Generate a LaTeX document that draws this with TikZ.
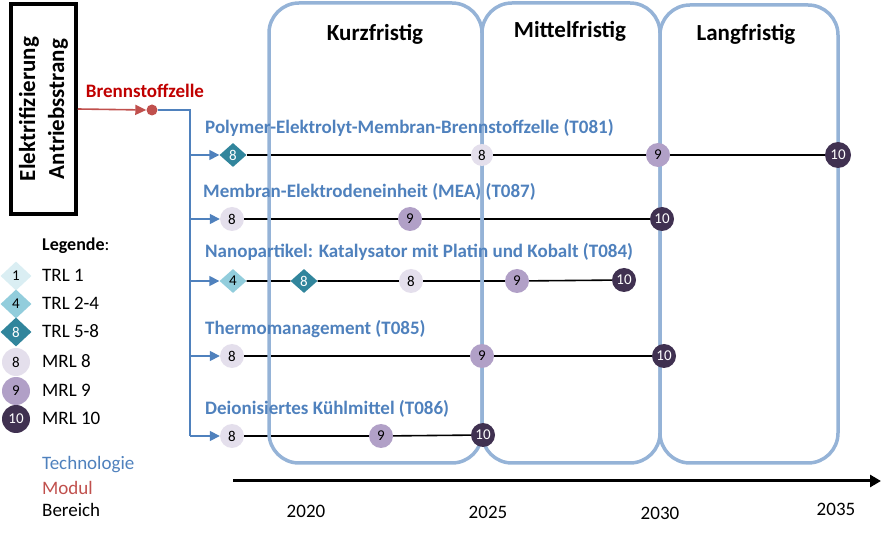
\documentclass[tikz,border=0pt]{standalone}
\usepackage{fontspec}
\setmainfont{Carlito}
\usetikzlibrary{shapes.geometric,arrows.meta}
\definecolor{techblue}{HTML}{4F81BD}
\definecolor{boxblue}{HTML}{95B3D7}
\definecolor{modred}{HTML}{C0504D}
\definecolor{labred}{HTML}{C00000}
\definecolor{trlA}{HTML}{DAEEF3}
\definecolor{trlB}{HTML}{92CDDC}
\definecolor{trlC}{HTML}{31859C}
\definecolor{mrlA}{HTML}{E4DFEC}
\definecolor{mrlB}{HTML}{B1A0C7}
\definecolor{mrlC}{HTML}{403151}
\pgfdeclarelayer{bg}
\pgfdeclarelayer{mid}
\pgfsetlayers{bg,mid,main}
\begin{document}
\begin{tikzpicture}[x=1pt,y=-1pt,
  numfont/.style={font=\fontsize{15}{15}\selectfont},
  trl/.style={diamond, inner sep=0pt, minimum width=27pt, minimum height=24pt, numfont},
  trlone/.style={trl, fill=trlA},
  trlfour/.style={trl, fill=trlB},
  trleight/.style={trl, fill=trlC, text=white},
  mrl/.style={circle, inner sep=0pt, minimum size=24pt, numfont},
  mrleight/.style={mrl, fill=mrlA},
  mrlnine/.style={mrl, fill=mrlB},
  mrlten/.style={mrl, fill=mrlC, text=white},
  legsym/.style={minimum width=31pt, minimum height=29pt},
  legcirc/.style={minimum size=28pt},
  legtext/.style={anchor=west, inner sep=0pt, font=\fontsize{19}{19}\selectfont},
  techlabel/.style={anchor=west, inner sep=0pt, text=techblue, font=\bfseries\fontsize{19}{19}\selectfont},
  period/.style={draw=boxblue, line width=3.5pt, rounded corners=30pt},
  title/.style={font=\bfseries\fontsize{23}{23}\selectfont},
  year/.style={font=\fontsize{19}{19}\selectfont},
  rowline/.style={line width=1.6pt},
  branch/.style={draw=techblue, line width=1.6pt, -{Triangle[length=10pt,width=10pt]}},
]
\useasboundingbox (0,0) rectangle (892,534);

% main box
\node (ea) [draw, line width=3.5pt, rotate=90, minimum width=210pt, minimum height=65pt,
  align=center, font=\bfseries\fontsize{23}{29}\selectfont] at (43.5,109) {Elektrifizierung\\Antriebsstrang};

% module
\node (bszlab) [text=labred, font=\bfseries\fontsize{19}{19}\selectfont] at (145,91) {Brennstoffzelle};
\node (bsz) [circle, fill=modred, inner sep=0pt, minimum size=11pt] at (152,110) {};
\coordinate (tTop) at (190,110);
\coordinate (tBot) at (190,436);

% period titles
\node (kurz) [title] at (375,34) {Kurzfristig};
\node (mittel) [title] at (570,31) {Mittelfristig};
\node (lang) [title] at (746,34) {Langfristig};

% technology labels
\node (l1) [techlabel] at (205,128) {Polymer-Elektrolyt-Membran-Brennstoffzelle (T081)};
\node (l2) [techlabel] at (203,192) {Membran-Elektrodeneinheit (MEA) (T087)};
\node (l3) [techlabel] at (205,252) {Nanopartikel: Katalysator mit Platin und Kobalt (T084)};
\node (l4) [techlabel] at (205,329) {Thermomanagement (T085)};
\node (l5) [techlabel] at (205,409) {Deionisiertes Kühlmittel (T086)};

% row 1
\node (r1a) [trleight] at (233,155) {8};
\node (r1b) [mrleight, minimum size=22pt] at (482,155) {8};
\node (r1c) [mrlnine] at (658,155) {9};
\node (r1d) [mrlten, minimum size=26pt] at (838,155) {10};
% row 2
\node (r2a) [mrleight] at (232,219) {8};
\node (r2b) [mrlnine] at (410,219) {9};
\node (r2c) [mrlten] at (662,219) {10};
% row 3
\node (r3a) [trlfour] at (233,281) {4};
\node (r3b) [trleight] at (304,281) {8};
\node (r3c) [mrleight] at (411,281) {8};
\node (r3d) [mrlnine] at (517,281) {9};
\node (r3e) [mrlten] at (624,280) {10};
% row 4
\node (r4a) [mrleight] at (232,356) {8};
\node (r4b) [mrlnine] at (482,356) {9};
\node (r4c) [mrlten] at (664,356) {10};
% row 5
\node (r5a) [mrleight] at (232,436) {8};
\node (r5b) [mrlnine] at (381,436) {9};
\node (r5c) [mrlten] at (483,435) {10};

% axis and years
\coordinate (axs) at (233,481);
\coordinate (axe) at (881,481);
\draw[line width=3pt, -{Triangle[length=11pt,width=12pt]}] (axs) -- (axe);
\node (y20) [year] at (306,511) {2020};
\node (y25) [year] at (488,512) {2025};
\node (y30) [year] at (660,513) {2030};
\node (y35) [year] at (836,509) {2035};

% legend
\node (leg) [anchor=west, inner sep=0pt, font=\fontsize{18}{18}\selectfont] at (42,246) {\textbf{Legende}:};
\node (s1) [trlone, legsym] at (16,276) {1};
\node (s2) [trlfour, legsym] at (16,304) {4};
\node (s3) [trleight, legsym] at (16,332) {8};
\node (s4) [mrleight, legcirc] at (16,362) {8};
\node (s5) [mrlnine, legcirc] at (16,391) {9};
\node (s6) [mrlten, legcirc] at (16,419) {10};
\node (t1) [legtext] at (42,275) {TRL 1};
\node (t2) [legtext] at (42,303) {TRL 2-4};
\node (t3) [legtext] at (42,331) {TRL 5-8};
\node (t4) [legtext] at (42,361) {MRL 8};
\node (t5) [legtext] at (42,390) {MRL 9};
\node (t6) [legtext] at (42,418) {MRL 10};
\node (k1) [legtext, text=techblue] at (42,465) {Technologie};
\node (k2) [legtext, text=modred] at (42,488) {Modul};
\node (k3) [legtext] at (42,510) {Bereich};

\begin{pgfonlayer}{bg}
  \draw[rowline] (r1a) -- (r1d);
  \draw[rowline] (r2a) -- (r2c);
  \draw[rowline] (r3a) -- (r3b) -- (r3c) -- (r3d) -- (r3e);
  \draw[rowline] (r4a) -- (r4c);
  \draw[rowline] (r5a) -- (r5b) -- (r5c);
\end{pgfonlayer}

\begin{pgfonlayer}{mid}
  \draw[period] (269,3) rectangle (482,463);
  \draw[period] (482,3) rectangle (660,463);
  \draw[period] (660,5) rectangle (838,463);
\end{pgfonlayer}

% connectors of the tree
\draw[modred, line width=1.6pt, -{Triangle[length=11pt,width=10pt]}] (ea.south) -- (bsz.west);
\draw[techblue, line width=1.6pt] (bsz) -- (tTop) -- (tBot);
\draw[branch] (tTop |- r1a) -- (r1a);
\draw[branch] (tTop |- r2a) -- (r2a);
\draw[branch] (tTop |- r3a) -- (r3a);
\draw[branch] (tTop |- r4a) -- (r4a);
\draw[branch] (tTop |- r5a) -- (r5a);
\end{tikzpicture}
\end{document}
